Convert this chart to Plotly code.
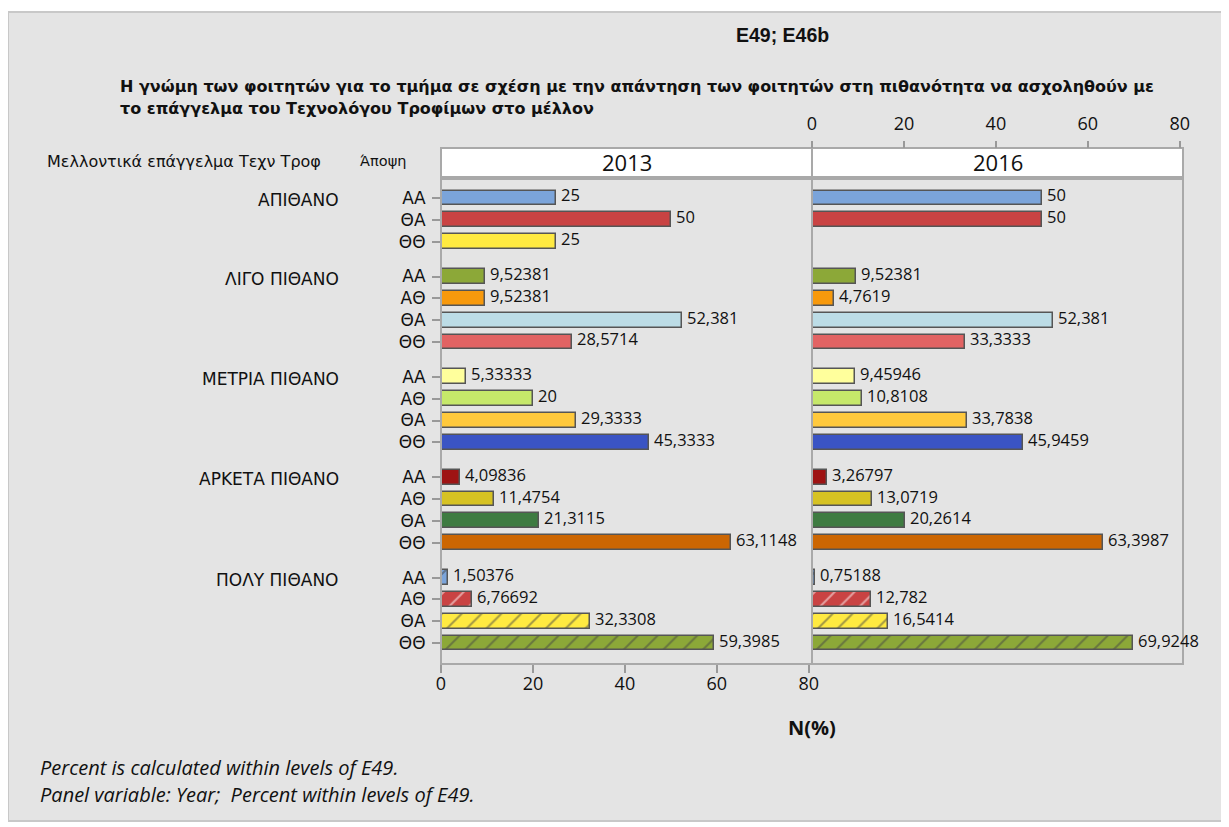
import plotly.graph_objects as go

# ---------------- data ----------------
groups = ["ΑΠΙΘΑΝΟ", "ΛΙΓΟ ΠΙΘΑΝΟ", "ΜΕΤΡΙΑ ΠΙΘΑΝΟ", "ΑΡΚΕΤΑ ΠΙΘΑΝΟ", "ΠΟΛΥ ΠΙΘΑΝΟ"]
opinions = [
    ["ΑΑ", "ΘΑ", "ΘΘ"],
    ["ΑΑ", "ΑΘ", "ΘΑ", "ΘΘ"],
    ["ΑΑ", "ΑΘ", "ΘΑ", "ΘΘ"],
    ["ΑΑ", "ΑΘ", "ΘΑ", "ΘΘ"],
    ["ΑΑ", "ΑΘ", "ΘΑ", "ΘΘ"],
]
values_2013 = [
    [25, 50, 25],
    [9.52381, 9.52381, 52.381, 28.5714],
    [5.33333, 20, 29.3333, 45.3333],
    [4.09836, 11.4754, 21.3115, 63.1148],
    [1.50376, 6.76692, 32.3308, 59.3985],
]
values_2016 = [
    [50, 50, None],
    [9.52381, 4.7619, 52.381, 33.3333],
    [9.45946, 10.8108, 33.7838, 45.9459],
    [3.26797, 13.0719, 20.2614, 63.3987],
    [0.75188, 12.782, 16.5414, 69.9248],
]
colors = [
    ["#7ba4da", "#c94343", "#ffea41"],
    ["#8ca838", "#f7990c", "#bcdce6", "#e26363"],
    ["#ffff9c", "#c6e86a", "#ffc93c", "#3a54c4"],
    ["#9e1313", "#d6c223", "#3e7b41", "#cc6602"],
    ["#7ba4da", "#c94343", "#ffea41", "#8ca838"],
]
hatched_groups = ["ΠΟΛΥ ΠΙΘΑΝΟ"]
panels = ["2013", "2016"]
tick_vals_x = [0, 20, 40, 60, 80]

# ---------------- layout helpers (page pixel coords; body has 8px margin) ----------------
OFF = 8
W, H = 1229 - OFF, 827 - OFF
L, R, T, B = 441, 1183, 148, 664          # page coords of the plot block
PW, PH = R - L, B - T


def px(xp):
    return (xp - L) / PW


def py(yp):
    return (B - yp) / PH


GAP = 0.6
ypos, ytext, cols, shapes_pat, v13, v16, group_first = [], [], [], [], [], [], []
k = 0
for gi, g in enumerate(groups):
    for oi, o in enumerate(opinions[gi]):
        pos = k + gi * GAP
        if oi == 0:
            group_first.append(pos)
        ypos.append(pos)
        ytext.append(o)
        cols.append(colors[gi][oi])
        shapes_pat.append("/" if g in hatched_groups else "")
        v13.append(values_2013[gi][oi])
        v16.append(values_2016[gi][oi])
        k += 1


def fmt(v):
    return ("%g" % v).replace(".", ",")


fig = go.Figure()
for vals, xa in [(v13, "x"), (v16, "x2")]:
    fig.add_trace(go.Bar(
        x=vals, y=ypos, orientation="h", xaxis=xa, yaxis="y",
        width=0.68,
        marker=dict(color=cols, line=dict(color="#555555", width=1.5),
                    pattern=dict(shape=shapes_pat, fgcolor="#333333", size=14, solidity=0.14)),
        showlegend=False, hoverinfo="x+y",
    ))

annotations = []
for vals, xa in [(v13, "x"), (v16, "x2")]:
    for v, yv in zip(vals, ypos):
        if v is None:
            continue
        annotations.append(dict(x=v, y=yv, xref=xa, yref="y", text=fmt(v), showarrow=False,
                                xanchor="left", yanchor="middle", xshift=3, yshift=3,
                                font=dict(family="Open Sans", size=16.5, color="#111111")))

for g, yv in zip(groups, group_first):
    annotations.append(dict(x=px(341), y=yv, xref="paper", yref="y", text=g, showarrow=False,
                            xanchor="right", yanchor="middle", yshift=-2,
                            font=dict(family="DejaVu Sans", size=17, color="#111111")))

annotations += [
    dict(x=px(782), y=py(35), xref="paper", yref="paper", text="<b>E49; E46b</b>", showarrow=False,
         xanchor="center", yanchor="middle", font=dict(family="Liberation Sans", size=19.5, color="#111111")),
    dict(x=px(118), y=py(86), xref="paper", yref="paper",
         text="<b>Η γνώμη των φοιτητών για το τμήμα σε σχέση με την απάντηση των φοιτητών στη πιθανότητα να ασχοληθούν με</b>",
         showarrow=False, xanchor="left", yanchor="middle",
         font=dict(family="DejaVu Sans", size=16, color="#111111")),
    dict(x=px(118), y=py(108), xref="paper", yref="paper",
         text="<b>το επάγγελμα του Τεχνολόγου Τροφίμων στο μέλλον</b>",
         showarrow=False, xanchor="left", yanchor="middle",
         font=dict(family="DejaVu Sans", size=16, color="#111111")),
    dict(x=px(45), y=py(161), xref="paper", yref="paper", text="Μελλοντικά επάγγελμα Τεχν Τροφ",
         showarrow=False, xanchor="left", yanchor="middle",
         font=dict(family="DejaVu Sans", size=16, color="#111111")),
    dict(x=px(358), y=py(161), xref="paper", yref="paper", text="Άποψη",
         showarrow=False, xanchor="left", yanchor="middle",
         font=dict(family="DejaVu Sans", size=14.5, color="#111111")),
    dict(x=px(812), y=py(727), xref="paper", yref="paper", text="<b>N(%)</b>", showarrow=False,
         xanchor="center", yanchor="middle", font=dict(family="Open Sans", size=20, color="#111111")),
    dict(x=px(38), y=py(767), xref="paper", yref="paper", text="<i>Percent is calculated within levels of E49.</i>",
         showarrow=False, xanchor="left", yanchor="middle",
         font=dict(family="Open Sans", size=20, color="#111111")),
    dict(x=px(38), y=py(794), xref="paper", yref="paper",
         text="<i>Panel variable: Year;  Percent within levels of E49.</i>",
         showarrow=False, xanchor="left", yanchor="middle",
         font=dict(family="Open Sans", size=20, color="#111111")),
]
for i, p in enumerate(panels):
    annotations.append(dict(x=0.25 + 0.5 * i, y=py(162), xref="paper", yref="paper", text=p,
                            showarrow=False, xanchor="center", yanchor="middle",
                            font=dict(family="Open Sans", size=22, color="#111111", weight=500)))

ydom_top = py(179)
shapes = [
    dict(type="rect", xref="paper", yref="paper", x0=px(8), x1=px(1222), y0=py(821), y1=py(12),
         fillcolor="#e4e4e4", line=dict(color="#c8c8c8", width=2), layer="below"),
]
for i in range(2):
    shapes.append(dict(type="rect", xref="paper", yref="paper", x0=0.5 * i, x1=0.5 * i + 0.5,
                       y0=py(177), y1=1, fillcolor="white", line=dict(color="#a9a9a9", width=2),
                       layer="below"))
    shapes.append(dict(type="rect", xref="paper", yref="paper", x0=0.5 * i, x1=0.5 * i + 0.5,
                       y0=0, y1=ydom_top, fillcolor="rgba(0,0,0,0)",
                       line=dict(color="#a9a9a9", width=2), layer="above"))

tickfont = dict(family="Open Sans", size=18, color="#111111")
fig.update_layout(
    width=W, height=H,
    margin=dict(l=L - OFF, r=W - (R - OFF), t=T - OFF, b=H - (B - OFF), pad=0),
    paper_bgcolor="white", plot_bgcolor="white",
    bargap=0, barmode="overlay",
    xaxis=dict(domain=[0, 0.5], range=[0, 80.7], tickvals=tick_vals_x, ticks="outside", ticklen=8,
               tickcolor="#999999", tickwidth=1.5, showgrid=False, zeroline=False, showline=False,
               tickfont=tickfont, anchor="y", ticklabelstandoff=-5),
    xaxis2=dict(domain=[0.5, 1], range=[0, 80.7], tickvals=tick_vals_x, ticks="outside", ticklen=7,
                tickcolor="#999999", tickwidth=1.5, showgrid=False, zeroline=False, showline=False,
                tickfont=tickfont, anchor="free", position=1, side="top", ticklabelstandoff=4),
    yaxis=dict(domain=[0, ydom_top], range=[ypos[-1] + 0.96, -0.87], tickvals=ypos, ticktext=ytext,
               ticks="outside", ticklen=8, tickcolor="#999999", tickwidth=1.5, showgrid=False,
               zeroline=False, showline=False, ticklabelstandoff=3,
               tickfont=dict(family="DejaVu Sans", size=17, color="#111111"), anchor="x"),
    annotations=annotations,
    shapes=shapes,
)

fig.write_html("out.html")
